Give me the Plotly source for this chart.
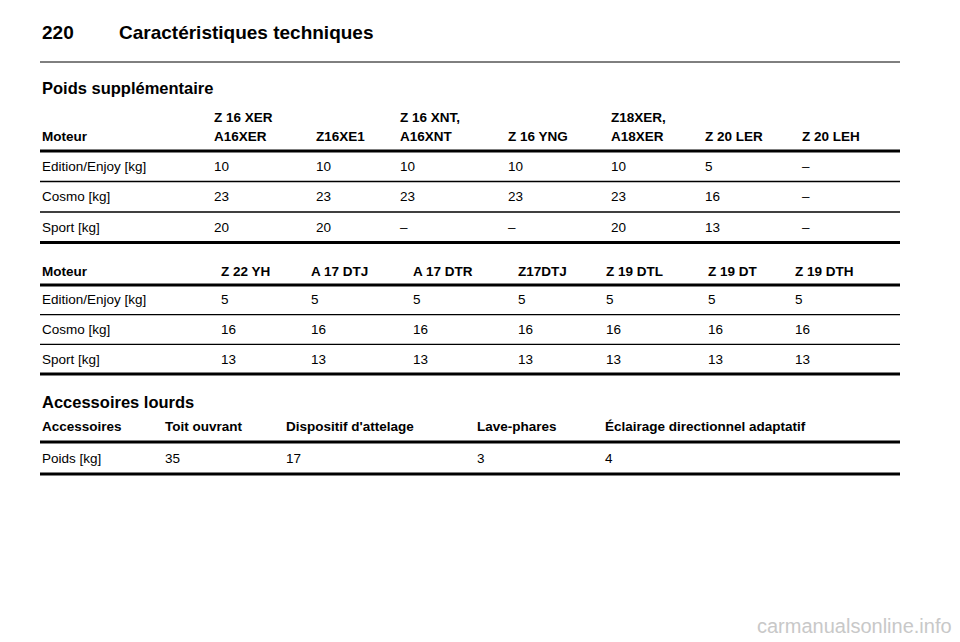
import plotly.graph_objects as go

# page text
page_number = "220"
page_title = "Caractéristiques techniques"
section1 = "Poids supplémentaire"
section2 = "Accessoires lourds"

# table 1
t1_head_top = ["", "Z 16 XER", "", "Z 16 XNT,", "", "Z18XER,", "", ""]
t1_head = ["Moteur", "A16XER", "Z16XE1", "A16XNT", "Z 16 YNG", "A18XER", "Z 20 LER", "Z 20 LEH"]
t1_rows = [
    ["Edition/Enjoy [kg]", "10", "10", "10", "10", "10", "5", "–"],
    ["Cosmo [kg]", "23", "23", "23", "23", "23", "16", "–"],
    ["Sport [kg]", "20", "20", "–", "–", "20", "13", "–"],
]

# table 2
t2_head = ["Moteur", "Z 22 YH", "A 17 DTJ", "A 17 DTR", "Z17DTJ", "Z 19 DTL", "Z 19 DT", "Z 19 DTH"]
t2_rows = [
    ["Edition/Enjoy [kg]", "5", "5", "5", "5", "5", "5", "5"],
    ["Cosmo [kg]", "16", "16", "16", "16", "16", "16", "16"],
    ["Sport [kg]", "13", "13", "13", "13", "13", "13", "13"],
]

# table 3
t3_head = ["Accessoires", "Toit ouvrant", "Dispositif d'attelage", "Lave-phares",
           "Éclairage directionnel adaptatif"]
t3_rows = [["Poids [kg]", "35", "17", "3", "4"]]

FONT = "Liberation Sans, Arial, sans-serif"
X0, X1 = 40, 900
OFF = 8  # page body margin in the browser

fig = go.Figure()
ann = []
shapes = []


def text(x, y, s, size=13.5, bold=False, color="#000"):
    if s == "":
        return
    ann.append(dict(x=x, y=y, xref="x", yref="y", text=f"<b>{s}</b>" if bold else s,
                    showarrow=False, xanchor="left", yanchor="middle",
                    font=dict(family=FONT, size=size, color=color)))


def hline(y, w):
    shapes.append(dict(type="line", xref="x", yref="y", x0=X0, x1=X1, y0=y, y1=y,
                       line=dict(color="#000", width=w)))


def table(cols, head, rows, head_y, first_line, row_h, top=None, top_y=None):
    if top:
        for x, s in zip(cols, top):
            text(x, top_y, s, bold=True)
    for x, s in zip(cols, head):
        text(x, head_y, s, bold=True)
    hline(first_line, 3)
    y = first_line
    for i, r in enumerate(rows):
        for x, s in zip(cols, r):
            text(x, y + row_h / 2, s)
        y += row_h
        hline(y, 3 if i == len(rows) - 1 else 1.3)


text(40, 32, page_number, size=19, bold=True)
text(117, 32, page_title, size=19, bold=True)
hline(62, 1)
text(40, 88, section1, size=16.5, bold=True)

table([40, 212, 314, 398, 506, 609, 703, 800], t1_head, t1_rows, 136, 151, 30.5,
      top=t1_head_top, top_y=117)
table([40, 219, 309, 411, 516, 604, 706, 793], t2_head, t2_rows, 271, 285, 29.7)

text(40, 402, section2, size=16.5, bold=True)
table([40, 163, 284, 475, 603], t3_head, t3_rows, 426, 442, 32)

ann.append(dict(x=954, y=626, xref="x", yref="y", text="carmanualsonline.info",
                showarrow=False, xanchor="right", yanchor="middle",
                font=dict(family=FONT, size=20, color="#c8c8c8")))

fig.update_layout(
    width=960 - OFF, height=642 - OFF, margin=dict(l=0, r=0, t=0, b=0),
    paper_bgcolor="white", plot_bgcolor="white",
    xaxis=dict(range=[OFF, 960], visible=False, fixedrange=True),
    yaxis=dict(range=[642, OFF], visible=False, fixedrange=True),
    annotations=ann, shapes=shapes, showlegend=False,
)
fig.write_html("out.html", config={"displayModeBar": False})
